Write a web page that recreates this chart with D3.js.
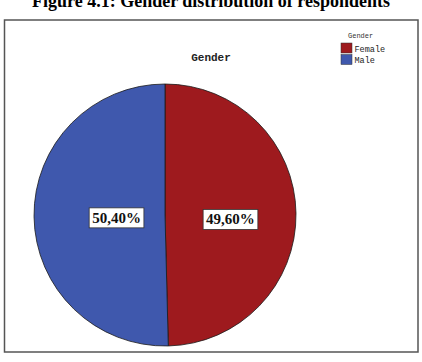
<!DOCTYPE html>
<html>
<head>
<meta charset="utf-8">
<script src="https://cdn.jsdelivr.net/npm/d3@7"></script>
<style>
  body { margin: 0; background: #fff; }
  svg { display: block; }
</style>
</head>
<body>
<svg id="chart" width="422" height="362"></svg>
<script>
// slices are drawn clockwise from 12 o'clock in this order
const categories = ["Female", "Male"];
const shares = [49.6, 50.4];
const shareLabels = ["49,60%", "50,40%"];
const colours = ["#9e1a1e", "#3f58ad"];

const W = 422, H = 362;
const cx = 165, cy = 215, r = 131;
// SPSS puts the labels at different distances from the centre
const labelRadius = [0.5, 0.37];

const svg = d3.select("#chart");

// figure caption, cut off at the top of the picture (as in the source)
svg.append("text")
  .attr("x", 211).attr("y", 6.5)
  .attr("text-anchor", "middle")
  .style("font-family", "'Liberation Serif', 'Times New Roman', serif")
  .style("font-weight", "bold")
  .style("font-size", "18px")
  .text("Figure 4.1: Gender distribution of respondents");

// chart frame
svg.append("rect")
  .attr("x", 4.5).attr("y", 20)
  .attr("width", 413.5).attr("height", 332)
  .attr("fill", "#fff")
  .attr("stroke", "#555")
  .attr("stroke-width", 1.5);

svg.append("text")
  .attr("x", 211).attr("y", 61)
  .attr("text-anchor", "middle")
  .style("font-family", "'Liberation Mono', 'Courier New', monospace")
  .style("font-weight", "bold")
  .style("font-size", "11px")
  .attr("fill", "#222")
  .text("Gender");

const colour = d3.scaleOrdinal().domain(categories).range(colours);

const pie = d3.pie().sort(null).value(d => d.value);
const arcs = pie(categories.map((c, i) => ({ cat: c, value: shares[i], label: shareLabels[i], idx: i })));
const arc = d3.arc().innerRadius(0).outerRadius(r);

const g = svg.append("g").attr("transform", `translate(${cx},${cy})`);

g.selectAll("path.slice")
  .data(arcs)
  .enter()
  .append("path")
  .attr("class", "slice")
  .attr("d", arc)
  .attr("fill", d => colour(d.data.cat))
  .attr("stroke", "#1a1a1a")
  .attr("stroke-width", 0.8);

// value labels in white boxes
const lab = g.selectAll("g.lab")
  .data(arcs)
  .enter()
  .append("g")
  .attr("class", "lab")
  .attr("transform", d => {
    const lr = r * labelRadius[d.data.idx];
    const c = d3.arc().innerRadius(lr).outerRadius(lr).centroid(d);
    return `translate(${c[0]},${c[1] + (d.data.idx === 0 ? 5 : 2)})`;
  });

lab.append("text")
  .attr("text-anchor", "middle")
  .attr("dy", "0.35em")
  .style("font-family", "'Liberation Serif', 'Times New Roman', serif")
  .style("font-weight", "bold")
  .style("font-size", "15px")
  .attr("fill", "#111")
  .text(d => d.data.label);

lab.each(function () {
  const grp = d3.select(this);
  const bb = grp.select("text").node().getBBox();
  grp.insert("rect", "text")
    .attr("x", bb.x - 3).attr("y", bb.y - 2)
    .attr("width", bb.width + 6).attr("height", bb.height + 4)
    .attr("fill", "#fff")
    .attr("stroke", "#333")
    .attr("stroke-width", 0.8);
});

// legend
const legendX = 341, legendY = 43;
svg.append("text")
  .attr("x", 348).attr("y", 38)
  .style("font-family", "'Liberation Mono', 'Courier New', monospace")
  .style("font-size", "7px")
  .attr("fill", "#333")
  .text("Gender");

const leg = svg.selectAll("g.leg")
  .data(categories)
  .enter()
  .append("g")
  .attr("class", "leg")
  .attr("transform", (d, i) => `translate(${legendX},${legendY + i * 11.5})`);

leg.append("rect")
  .attr("width", 11).attr("height", 10)
  .attr("fill", d => colour(d))
  .attr("stroke", "#333")
  .attr("stroke-width", 0.5);

leg.append("text")
  .attr("x", 13.5).attr("y", 8.5)
  .style("font-family", "'Liberation Mono', 'Courier New', monospace")
  .style("font-size", "8.5px")
  .attr("fill", "#222")
  .text(d => d);
</script>
</body>
</html>
